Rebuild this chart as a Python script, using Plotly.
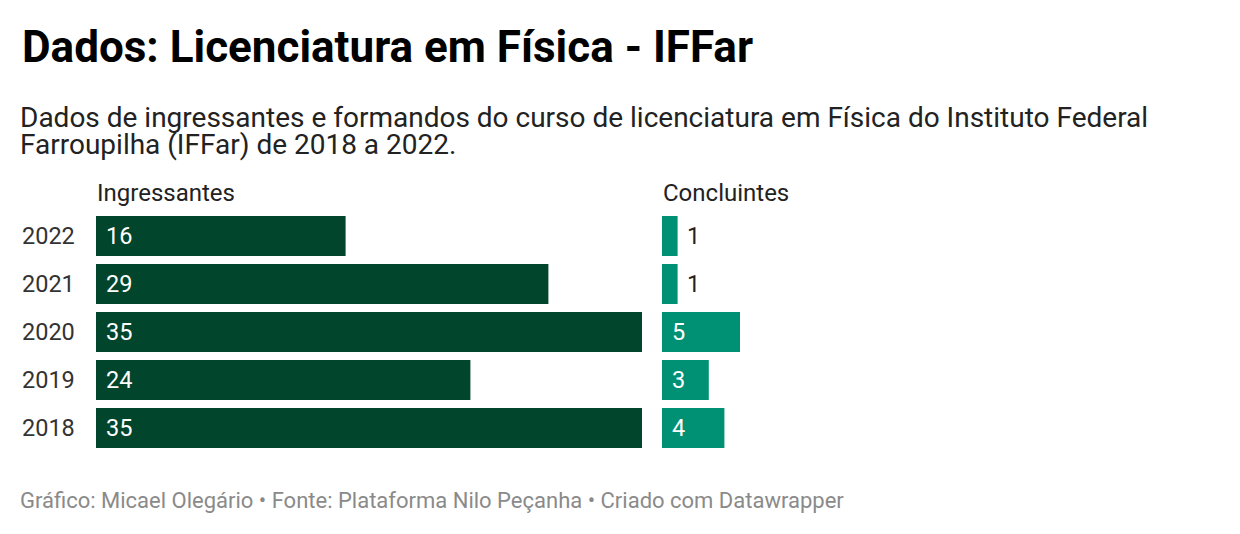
import plotly.graph_objects as go

# page body adds an 8px margin; the figure is sized/positioned to compensate
OFF = 8
W, H = 1240 - OFF, 534 - OFF

years = ["2022", "2021", "2020", "2019", "2018"]
ingressantes = [16, 29, 35, 24, 35]
concluintes = [1, 1, 5, 3, 4]

title = "Dados: Licenciatura em Física - IFFar"
subtitle_lines = [
    "Dados de ingressantes e formandos do curso de licenciatura em Física do Instituto Federal",
    "Farroupilha (IFFar) de 2018 a 2022.",
]
col_titles = ["Ingressantes", "Concluintes"]
footer = "Gráfico: Micael Olegário • Fonte: Plataforma Nilo Peçanha • Criado com Datawrapper"

DARK = "#01452c"
TEAL = "#009175"
FONT = "Roboto"

def px_x(x):
    return (x - OFF) / W

def px_y(y):
    return 1 - (y - OFF) / H

cat_order = years[::-1]          # bottom -> top
def cat_idx(yr):
    return cat_order.index(yr)

fig = go.Figure()
fig.add_trace(go.Bar(y=years, x=ingressantes, orientation="h", marker_color=DARK,
                     marker_line_width=0, xaxis="x", yaxis="y", hoverinfo="skip"))
fig.add_trace(go.Bar(y=years, x=concluintes, orientation="h", marker_color=TEAL,
                     marker_line_width=0, xaxis="x2", yaxis="y2", hoverinfo="skip"))

ydom = [px_y(452), px_y(212)]
annotations = []

annotations.append(dict(text=f"<b>{title}</b>", x=px_x(20), y=px_y(47), xref="paper", yref="paper",
                        xanchor="left", yanchor="middle", showarrow=False,
                        font=dict(family=FONT, size=44, color="#000000")))
for line, yc in zip(subtitle_lines, [117, 144]):
    annotations.append(dict(text=line, x=px_x(18), y=px_y(yc), xref="paper", yref="paper",
                            xanchor="left", yanchor="middle", showarrow=False,
                            font=dict(family=FONT, size=28, color="#222222")))
for t, xp in zip(col_titles, [96, 662]):
    annotations.append(dict(text=t, x=px_x(xp - 1), y=px_y(193), xref="paper", yref="paper",
                            xanchor="left", yanchor="middle", showarrow=False,
                            font=dict(family=FONT, size=24, color="#222222")))
for yr in years:
    annotations.append(dict(text=yr, x=px_x(20), y=cat_idx(yr), xref="paper", yref="y",
                            xanchor="left", yanchor="middle", showarrow=False,
                            font=dict(family=FONT, size=23.5, color="#333333")))
for yr, v in zip(years, ingressantes):
    annotations.append(dict(text=str(v), x=0, y=cat_idx(yr), xref="x", yref="y", xshift=8,
                            xanchor="left", yanchor="middle", showarrow=False,
                            font=dict(family=FONT, size=23.5, color="#ffffff")))
for yr, v in zip(years, concluintes):
    if v >= 2:
        annotations.append(dict(text=str(v), x=0, y=cat_idx(yr), xref="x2", yref="y2", xshift=8,
                                xanchor="left", yanchor="middle", showarrow=False,
                                font=dict(family=FONT, size=23.5, color="#ffffff")))
    else:
        annotations.append(dict(text=str(v), x=v, y=cat_idx(yr), xref="x2", yref="y2", xshift=7,
                                xanchor="left", yanchor="middle", showarrow=False,
                                font=dict(family=FONT, size=23.5, color="#222222")))
annotations.append(dict(text=footer, x=px_x(18), y=px_y(500), xref="paper", yref="paper",
                        xanchor="left", yanchor="middle", showarrow=False,
                        font=dict(family=FONT, size=22, color="#8a8a8a")))

axis_common = dict(showgrid=False, zeroline=False, showticklabels=False, showline=False, fixedrange=True)
yrange = [-0.5, len(years) - 0.5]
fig.update_layout(
    width=W, height=H,
    margin=dict(l=0, r=0, t=0, b=0),
    paper_bgcolor="white", plot_bgcolor="white",
    showlegend=False,
    bargap=8 / 48,
    xaxis=dict(domain=[px_x(96), px_x(642)], range=[0, 35], **axis_common),
    xaxis2=dict(domain=[px_x(662), px_x(1208)], range=[0, 35], **axis_common),
    yaxis=dict(domain=ydom, type="category", categoryorder="array",
               categoryarray=cat_order, range=yrange, **axis_common),
    yaxis2=dict(domain=ydom, anchor="x2", type="category", categoryorder="array",
                categoryarray=cat_order, range=yrange, **axis_common),
    annotations=annotations,
    font=dict(family=FONT),
)
fig.write_html("out.html")
